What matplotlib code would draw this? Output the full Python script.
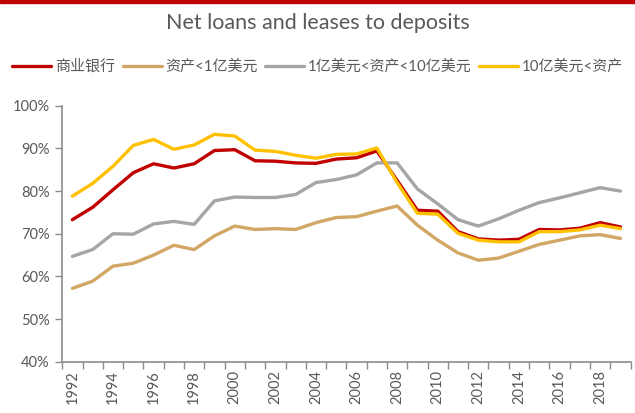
import matplotlib.pyplot as plt
from matplotlib.patches import Rectangle
from matplotlib.ticker import FuncFormatter, FixedLocator

plt.rcParams['font.family'] = ['Lato', 'Noto Sans CJK SC', 'DejaVu Sans']

# data (percent)
years = list(range(1992, 2020))
commercial_banks = [73.3, 76.2, 80.3, 84.3, 86.4, 85.4, 86.4, 89.5, 89.7, 87.1,
                    87.0, 86.6, 86.5, 87.5, 87.8, 89.4, 82.5, 75.5, 75.3, 70.5,
                    68.8, 68.5, 68.7, 71.0, 70.9, 71.3, 72.6, 71.6]
assets_lt_1b = [57.2, 58.9, 62.4, 63.1, 65.0, 67.3, 66.3, 69.5, 71.8, 71.0,
                71.2, 71.0, 72.6, 73.8, 74.0, 75.3, 76.5, 72.0, 68.5, 65.5,
                63.8, 64.3, 65.9, 67.5, 68.5, 69.5, 69.8, 68.9]
assets_1b_10b = [64.7, 66.3, 70.0, 69.9, 72.3, 72.9, 72.2, 77.7, 78.6, 78.5,
                 78.5, 79.2, 82.0, 82.7, 83.8, 86.6, 86.6, 80.5, 77.0, 73.3,
                 71.8, 73.5, 75.5, 77.3, 78.4, 79.6, 80.8, 80.0]
assets_gt_10b = [78.8, 81.8, 85.8, 90.7, 92.1, 89.8, 90.8, 93.3, 92.9, 89.6,
                 89.3, 88.4, 87.7, 88.6, 88.7, 90.1, 82.0, 74.8, 74.6, 70.1,
                 68.5, 68.1, 68.1, 70.5, 70.5, 70.9, 72.0, 71.2]

series_names = ['商业银行', '资产<1亿美元', '1亿美元<资产<10亿美元', '10亿美元<资产']
series_values = [commercial_banks, assets_lt_1b, assets_1b_10b, assets_gt_10b]
series_colors = ['#C00000', '#D2A765', '#A5A5A5', '#FFC000']

text_color = '#595959'
axis_color = '#8C8C8C'

fig = plt.figure(figsize=(6.35, 4.13), dpi=100)
ax = fig.add_axes([0.098, 0.124, 0.895, 0.62])

# thin red band along the top edge
fig.patches.append(Rectangle((0, 0.993), 1, 0.007, transform=fig.transFigure,
                             color='#C00000', zorder=0))

x = list(range(len(years)))
lines = []
for name, vals, col in zip(series_names, series_values, series_colors):
    ln, = ax.plot(x, [v / 100 for v in vals], color=col, lw=2.4,
                  solid_capstyle='round', solid_joinstyle='round', label=name)
    lines.append(ln)

ax.set_xlim(-0.5, len(years) - 0.5)
ax.set_ylim(0.4, 1.0)
ax.set_yticks([0.4, 0.5, 0.6, 0.7, 0.8, 0.9, 1.0])
ax.yaxis.set_major_formatter(FuncFormatter(lambda v, p: '{:.0f}%'.format(v * 100)))

# category labels every other year, ticks on category boundaries
ax.set_xticks(x[::2])
ax.set_xticklabels([str(y) for y in years[::2]], rotation=90)
ax.xaxis.set_minor_locator(FixedLocator([i - 0.5 for i in range(len(years) + 1)]))
ax.tick_params(axis='x', which='major', length=0, pad=6, labelsize=10.5, labelcolor=text_color)
ax.tick_params(axis='x', which='minor', length=5, direction='out', color=axis_color, width=1)
ax.tick_params(axis='y', length=5, direction='out', color=axis_color, width=1,
               labelsize=10.5, labelcolor=text_color, pad=4)

for side in ['top', 'right']:
    ax.spines[side].set_visible(False)
for side in ['left', 'bottom']:
    ax.spines[side].set_color(axis_color)
    ax.spines[side].set_linewidth(1.2)

fig.text(0.5, 0.945, 'Net loans and leases to deposits', ha='center', va='center',
         fontsize=15.5, color=text_color)

# the last legend entry runs to the right edge, as in the reference
fig.legend(handles=lines, loc='center left', bbox_to_anchor=(0.01, 0.838), ncol=4,
           frameon=False, fontsize=10.8, labelcolor=text_color, handlelength=2.6,
           handletextpad=0.25, columnspacing=0.5, borderaxespad=0)

fig.savefig('out.png', dpi=100)
